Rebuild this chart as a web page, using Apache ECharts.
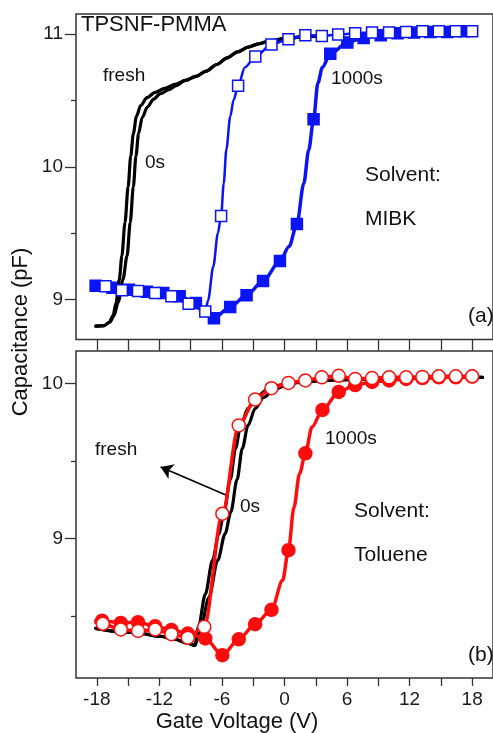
<!DOCTYPE html>
<html>
<head>
<meta charset="utf-8">
<title>TPSNF-PMMA C-V curves</title>
<script src="https://cdn.jsdelivr.net/npm/echarts@6/dist/echarts.min.js"></script>
<style>
  html, body { margin: 0; padding: 0; background: #fff; }
  #chart { width: 493px; height: 733px; }
</style>
</head>
<body>
<div id="chart"></div>
<script>
// ---- axis settings ----
const xRange = [-20, 20];
const xTickValues = [-18, -15, -12, -9, -6, -3, 0, 3, 6, 9, 12, 15, 18];
const xLabelValues = [-18, -12, -6, 0, 6, 12, 18];
const yRangeA = [8.7, 11.15];
const yMajorA = [9, 10, 11];
const yMinorA = [9.5, 10.5];
const yRangeB = [8.1, 10.21];
const yMajorB = [9, 10];
const yMinorB = [8.5, 9.5];

// ---- panel (a): MIBK ----
// black curves: fresh and 0s
const aFreshX = [-18.1, -17.3, -16.8, -16.45, -16.15, -15.85, -15.6, -15.3, -15.0, -14.75, -14.5, -14.2, -13.8, -13.2, -12.4, -11.5, -10.5, -9.5, -8.5, -7.5, -6.5, -5.5, -4.5, -3.5, -2.5, -1.5, 0, 2, 4];
const aFreshY = [8.80, 8.805, 8.83, 8.88, 8.98, 9.15, 9.33, 9.58, 9.85, 10.08, 10.25, 10.38, 10.46, 10.52, 10.56, 10.59, 10.62, 10.65, 10.68, 10.72, 10.77, 10.82, 10.865, 10.90, 10.925, 10.945, 10.965, 10.98, 10.985];
const a0sX = [-18.1, -17.3, -16.75, -16.35, -15.95, -15.5, -15.1, -14.8, -14.5, -14.25, -14.0, -13.65, -13.15, -12.55, -11.9, -11.1, -10.4, -9.5, -8.5, -7.5, -6.5, -5.5, -4.5, -3.5, -2.5, -1.5, 0, 2, 4];
const a0sY = [8.80, 8.805, 8.83, 8.88, 8.98, 9.15, 9.33, 9.58, 9.85, 10.08, 10.25, 10.37, 10.45, 10.51, 10.55, 10.58, 10.61, 10.65, 10.68, 10.72, 10.77, 10.82, 10.865, 10.90, 10.925, 10.945, 10.965, 10.98, 10.985];
// blue open squares (0s sweep)
const aOpenX = [-17.17, -15.6, -14.05, -12.41, -10.85, -9.2, -7.6, -6.08, -4.45, -2.8, -1.25, 0.38, 2.0, 3.58, 5.15, 6.78, 8.4, 10.03, 11.67, 13.23, 14.8, 16.43, 18.0];
const aOpenY = [9.10, 9.07, 9.065, 9.05, 9.025, 8.97, 8.91, 9.63, 10.61, 10.83, 10.92, 10.96, 10.99, 10.985, 10.995, 11.005, 11.01, 11.01, 11.015, 11.02, 11.02, 11.02, 11.02];
const aOpenLineX = [-7.33, -6.83, -6.39, -5.83, -5.58, -5.2, -4.89, -3.79];
const aOpenLineY = [8.995, 9.25, 9.5, 9.875, 10.13, 10.38, 10.50, 10.75];
// blue filled squares (1000s)
const aFillX = [-18.12, -16.5, -14.92, -13.2, -11.63, -10.06, -8.5, -6.77, -5.21, -3.64, -2.06, -0.44, 1.19, 2.79, 4.39, 6.03, 7.59, 9.23, 10.85, 12.42, 13.99, 15.62, 17.18];
const aFillY = [9.105, 9.09, 9.075, 9.06, 9.05, 9.025, 8.975, 8.86, 8.945, 9.033, 9.14, 9.29, 9.57, 10.357, 10.85, 10.935, 10.97, 10.99, 11.005, 11.01, 11.015, 11.015, 11.02];
const aFillLineX = [0.44, 1.85, 2.32, 3.2, 3.64];
const aFillLineY = [9.40, 9.875, 10.126, 10.63, 10.75];

// ---- panel (b): Toluene ----
const bFreshX = [-18.1, -16, -14, -12, -10.5, -9.3, -8.6, -8.25, -7.6, -6.9, -6.3, -5.8, -5.2, -4.7, -4.2, -3.5, -2.7, -1.7, -0.5, 1, 4, 8, 12, 16, 19];
const bFreshY = [8.42, 8.40, 8.39, 8.37, 8.35, 8.325, 8.31, 8.43, 8.64, 8.86, 9.03, 9.17, 9.38, 9.58, 9.73, 9.84, 9.91, 9.96, 9.99, 10.005, 10.02, 10.03, 10.035, 10.04, 10.04];
const b0sX = [-18.1, -16, -14, -12, -10.5, -9.3, -8.6, -8.1, -7.25, -6.4, -5.7, -5.15, -4.55, -4.05, -3.5, -2.8, -2.0, -1.0, 0.2, 1.5, 4, 8, 12, 16, 19];
const b0sY = [8.42, 8.40, 8.39, 8.37, 8.35, 8.325, 8.31, 8.40, 8.62, 8.86, 9.03, 9.17, 9.38, 9.58, 9.73, 9.84, 9.91, 9.96, 9.99, 10.01, 10.02, 10.03, 10.035, 10.04, 10.04];
// red open circles (0s sweep)
const bOpenX = [-17.43, -15.7, -14.05, -12.41, -10.85, -9.28, -7.7, -5.96, -4.39, -2.82, -1.25, 0.38, 2.0, 3.58, 5.2, 6.78, 8.4, 10.03, 11.67, 13.23, 14.8, 16.43, 18.0];
const bOpenY = [8.45, 8.413, 8.404, 8.413, 8.383, 8.36, 8.43, 9.16, 9.73, 9.897, 9.97, 10.004, 10.02, 10.04, 10.05, 10.03, 10.035, 10.04, 10.04, 10.043, 10.047, 10.047, 10.047];
const bOpenLineX = [-18.1];
const bOpenLineY = [8.46];
// red filled circles (1000s)
const bFillX = [-17.5, -15.7, -14.05, -12.41, -10.85, -9.28, -7.6, -5.96, -4.39, -2.82, -1.25, 0.38, 2.0, 3.64, 5.2, 6.78, 8.4, 10.03, 11.67, 13.23, 14.8, 16.43, 18.0];
const bFillY = [8.47, 8.455, 8.46, 8.434, 8.41, 8.387, 8.355, 8.247, 8.35, 8.447, 8.54, 8.925, 9.55, 9.83, 9.946, 9.99, 10.01, 10.02, 10.03, 10.035, 10.04, 10.04, 10.045];
const bFillLineX = [-18.1, -0.18, 0.9, 1.45, 2.64];
const bFillLineY = [8.47, 8.73, 9.2, 9.42, 9.72];

// arrow pointing from the 0s curve toward "fresh"
const arrowFrom = [-5.57, 9.279];
const arrowTo = [-11.88, 9.462];

// ---- helpers ----
const zip = (xs, ys) => xs.map((x, i) => [x, ys[i]]);
const merged = (xs, ys, ex, ey) => zip(xs, ys).concat(zip(ex, ey)).sort((p, q) => p[0] - q[0]);

const FONT = '"Liberation Sans", Arial, Helvetica, sans-serif';
const BLUE = '#0a14f5';
const RED = '#ff0d0d';
const INK = '#1a1a1a';

function curve(data, grid, color, width, z) {
  return {
    type: 'line', xAxisIndex: grid, yAxisIndex: grid * 2, data: data,
    showSymbol: false, smooth: 0.3, smoothMonotone: 'x',
    lineStyle: { color: color, width: width, cap: 'round', join: 'round' },
    z: z, silent: true
  };
}
function marks(data, grid, symbol, size, fill, border, z) {
  return {
    type: 'scatter', xAxisIndex: grid, yAxisIndex: grid * 2, data: data,
    symbol: symbol, symbolSize: size,
    itemStyle: { color: fill, borderColor: border, borderWidth: 1.5, opacity: 1 },
    z: z, silent: true
  };
}
function xAxisFor(grid, showLabels, tickLen) {
  return {
    type: 'value', gridIndex: grid, min: xRange[0], max: xRange[1], position: 'bottom',
    axisLine: { show: false, onZero: false }, splitLine: { show: false },
    axisTick: { show: true, customValues: xTickValues, length: tickLen, lineStyle: { color: '#333', width: 1.3 } },
    axisLabel: showLabels
      ? { show: true, customValues: xLabelValues, fontSize: 19, fontFamily: FONT, color: INK, margin: 12 }
      : { show: false }
  };
}
function yAxisFor(grid, range, values, tickLen, showLabels) {
  return {
    type: 'value', gridIndex: grid, min: range[0], max: range[1], position: 'left', offset: 0,
    axisLine: { show: false, onZero: false }, splitLine: { show: false },
    axisTick: { show: true, customValues: values, length: tickLen, lineStyle: { color: '#333', width: 1.3 } },
    axisLabel: showLabels
      ? { show: true, customValues: values, fontSize: 19, fontFamily: FONT, color: INK, margin: 13 }
      : { show: false }
  };
}
function label(text, x, y, size) {
  return {
    type: 'text', x: x, y: y, silent: true,
    style: { text: text, font: size + 'px ' + FONT, fill: '#111', textAlign: 'left', textVerticalAlign: 'middle' }
  };
}

const chart = echarts.init(document.getElementById('chart'), null, { renderer: 'canvas' });
chart.setOption({
  animation: false,
  backgroundColor: '#fff',
  grid: [
    { left: 76, top: 14, width: 425, height: 325.5, show: true, borderColor: '#333', borderWidth: 1.5, backgroundColor: 'transparent' },
    { left: 76, top: 351, width: 425, height: 327, show: true, borderColor: '#333', borderWidth: 1.5, backgroundColor: 'transparent' }
  ],
  xAxis: [xAxisFor(0, false, 11), xAxisFor(1, true, 8)],
  yAxis: [
    yAxisFor(0, yRangeA, yMajorA, 11, true),
    yAxisFor(0, yRangeA, yMinorA, 5, false),
    yAxisFor(1, yRangeB, yMajorB, 11, true),
    yAxisFor(1, yRangeB, yMinorB, 5, false)
  ],
  series: [
    // panel (a)
    curve(merged(aFillX, aFillY, aFillLineX, aFillLineY), 0, BLUE, 3.5, 2),
    marks(zip(aFillX, aFillY), 0, 'rect', 11, BLUE, BLUE, 3),
    curve(zip(aFreshX, aFreshY), 0, '#000', 3.2, 4),
    curve(zip(a0sX, a0sY), 0, '#000', 3.2, 4),
    curve(merged(aOpenX, aOpenY, aOpenLineX, aOpenLineY), 0, BLUE, 2.5, 5),
    marks(zip(aOpenX, aOpenY), 0, 'rect', 11, '#fff', BLUE, 6),
    // panel (b)
    Object.assign(curve(zip(bFreshX, bFreshY), 1, '#000', 3.2, 2), {
      markLine: {
        silent: true, animation: false,
        symbol: ['none', 'arrow'], symbolSize: 12,
        label: { show: false },
        lineStyle: { color: '#000', width: 1.6, type: 'solid' },
        data: [[{ coord: arrowFrom }, { coord: arrowTo }]]
      }
    }),
    curve(zip(b0sX, b0sY), 1, '#000', 3.2, 2),
    curve(merged(bFillX, bFillY, bFillLineX, bFillLineY), 1, RED, 3.5, 3),
    marks(zip(bFillX, bFillY), 1, 'circle', 13, RED, RED, 4),
    curve(merged(bOpenX, bOpenY, bOpenLineX, bOpenLineY), 1, RED, 3.5, 5),
    marks(zip(bOpenX, bOpenY), 1, 'circle', 13, '#fff', RED, 6)
  ],
  graphic: [
    label('TPSNF-PMMA', 81, 25, 22),
    label('fresh', 103, 76, 19),
    label('0s', 145, 163, 19),
    label('1000s', 331, 79, 19),
    label('Solvent:', 365, 175, 21),
    label('MIBK', 365, 219, 21),
    label('(a)', 468, 316, 21),
    label('fresh', 95, 450, 19),
    label('0s', 240, 507, 19),
    label('1000s', 325, 439, 19),
    label('Solvent:', 354, 511, 21),
    label('Toluene', 354, 555, 21),
    label('(b)', 468, 655, 21),
    {
      type: 'text', x: 237, y: 722, silent: true,
      style: { text: 'Gate Voltage (V)', font: '22px ' + FONT, fill: '#111', textAlign: 'center', textVerticalAlign: 'middle' }
    },
    {
      type: 'text', x: 21, y: 332, rotation: Math.PI / 2, silent: true,
      style: { text: 'Capacitance (pF)', font: '22px ' + FONT, fill: '#111', textAlign: 'center', textVerticalAlign: 'middle' }
    }
  ]
});
</script>
</body>
</html>
